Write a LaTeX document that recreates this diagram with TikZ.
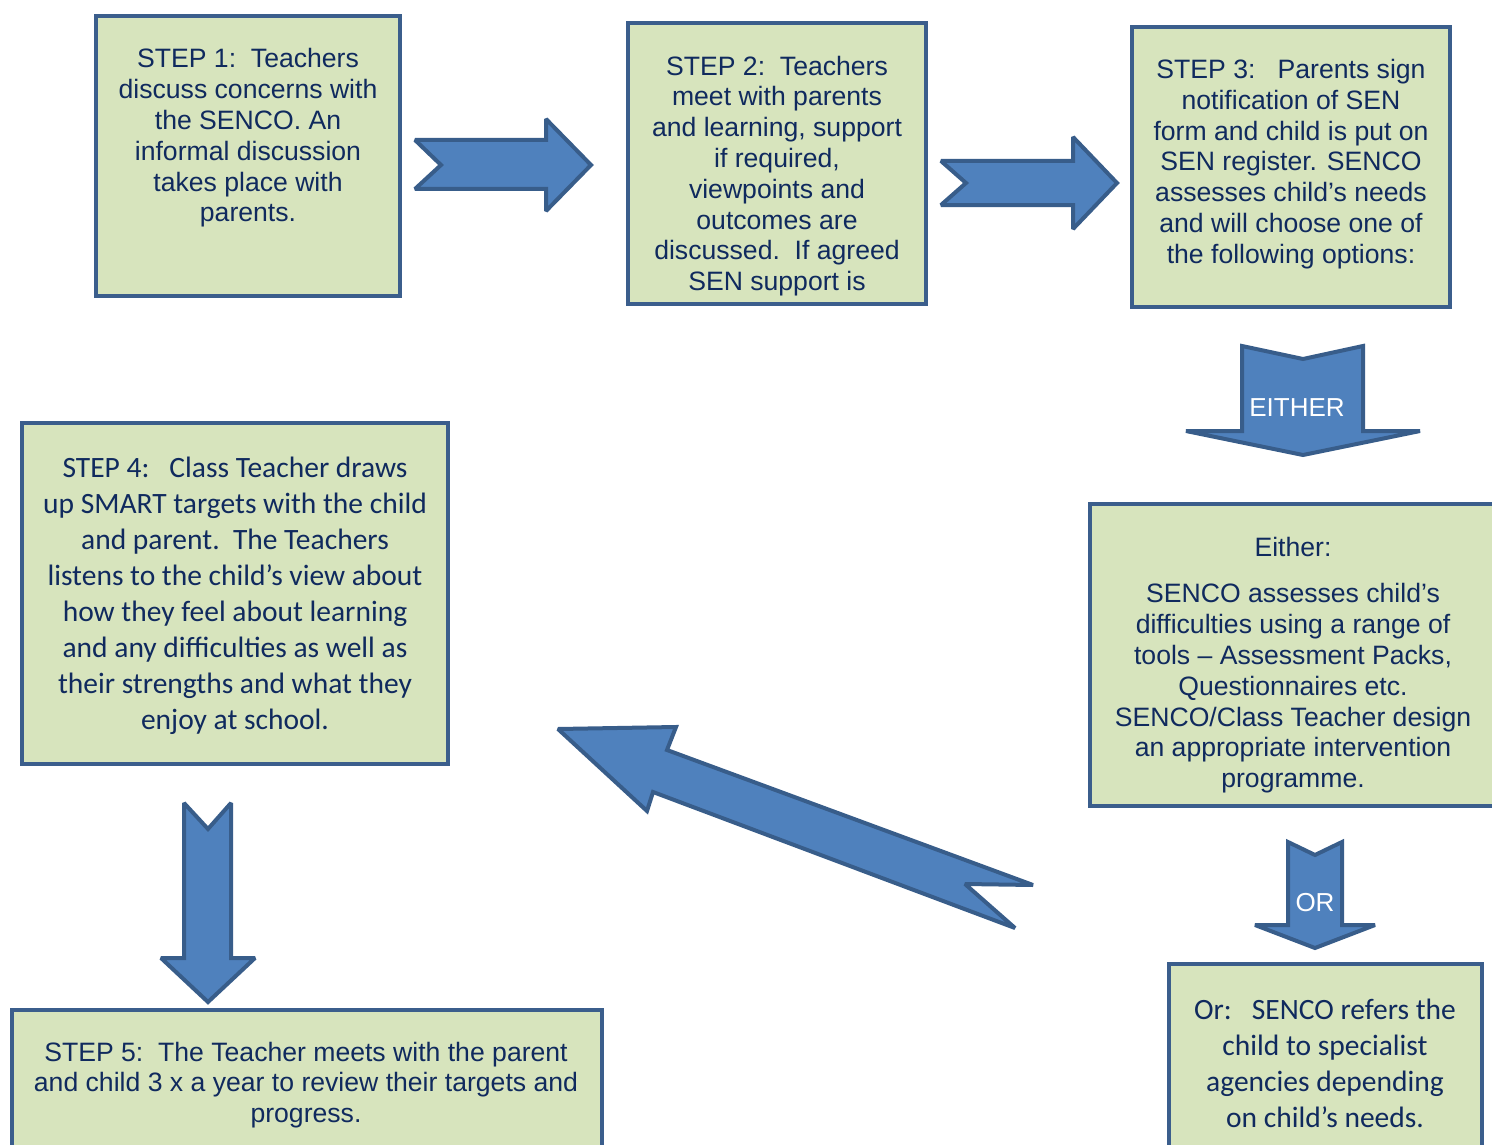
\documentclass[tikz,border=0pt]{standalone}
\usepackage{fontspec}
\setmainfont{Liberation Sans}
\newfontfamily\calib{Carlito}
\definecolor{boxfill}{HTML}{D7E4BD}
\definecolor{boxline}{HTML}{3B5E8C}
\definecolor{arrfill}{HTML}{4F81BD}
\definecolor{arrline}{HTML}{385D8A}
\definecolor{txt}{HTML}{102A5E}
\tikzset{
  stepbox/.style={draw=boxline, fill=boxfill, line width=4pt, inner sep=0pt},
  ariat/.style={text=txt, align=center, inner sep=0pt, font={\fontsize{26.6}{30.8}\selectfont}},
  calibt/.style={text=txt, align=center, inner sep=0pt, font={\calib\fontsize{29.5}{36}\selectfont}},
  blockarrow/.style={draw=arrline, fill=arrfill, line width=4pt, line join=miter, miter limit=2},
  arrlabel/.style={text=white, inner sep=0pt, font={\fontsize{26}{30}\selectfont}}
}
\begin{document}
\begin{tikzpicture}[x=1pt,y=-1pt]
\clip (0,0) rectangle (1492,1145);
\fill[white] (0,0) rectangle (1492,1145);

% boxes
\node[stepbox, minimum width=304, minimum height=280] (b1) at (248,156) {};
\node[stepbox, minimum width=298, minimum height=281] (b2) at (777,163.5) {};
\node[stepbox, minimum width=318, minimum height=280] (b3) at (1291,167) {};
\node[stepbox, minimum width=426, minimum height=341] (b4) at (235,593.5) {};
\node[stepbox, minimum width=412, minimum height=302] (be) at (1296,655) {};
\node[stepbox, minimum width=590, minimum height=150] (b5) at (307,1085) {};
\node[stepbox, minimum width=313, minimum height=196] (bo) at (1325.5,1062) {};

% texts
\node[ariat] (t1) at (248,138) {STEP 1:\ \ Teachers\\discuss concerns with\\the SENCO. An\\informal discussion\\takes place with\\parents.};
\node[ariat] (t2) at (777,176) {STEP 2:\ \ Teachers\\meet with parents\\and learning, support\\if required,\\viewpoints and\\outcomes are\\discussed.\ \ If agreed\\SEN support is};
\node[ariat] (t3) at (1291,164) {STEP 3:\ \ \ Parents sign\\notification of SEN\\form and child is put on\\SEN register. SENCO\\assesses child’s needs\\and will choose one of\\the following options:};
\node[calibt] (t4) at (235,596) {STEP 4:\ \ \ Class Teacher draws\\up SMART targets with the child\\and parent.\ \ The Teachers\\listens to the child’s view about\\how they feel about learning\\and any difficulties as well as\\their strengths and what they\\enjoy at school.};
\node[ariat] (te) at (1293,665) {Either:\\[16pt]SENCO assesses child’s\\difficulties using a range of\\tools – Assessment Packs,\\Questionnaires etc.\\SENCO/Class Teacher design\\an appropriate intervention\\programme.};
\node[ariat] (t5) at (306,1085) {STEP 5:\ \ The Teacher meets with the parent\\and child 3 x a year to review their targets and\\progress.};
\node[calibt] (to) at (1325,1063) {Or:\ \ \ SENCO refers the\\child to specialist\\agencies depending\\on child’s needs.};

% block arrows
\draw[blockarrow] (415,140) -- (546,140) -- (546,119) -- (591,165) -- (546,211) -- (546,189) -- (415,189) -- (441,165) -- cycle;
\draw[blockarrow] (941,161) -- (1073,161) -- (1073,137) -- (1117,183) -- (1073,229) -- (1073,205) -- (941,205) -- (966,183) -- cycle;
\draw[blockarrow] (1242,346) -- (1303,359) -- (1363,346) -- (1363,431) -- (1420,431) -- (1303,455) -- (1186,431) -- (1242,431) -- cycle;
\draw[blockarrow] (1288,842) -- (1315,855) -- (1342,842) -- (1342,925) -- (1375,925) -- (1315,948) -- (1255,925) -- (1288,925) -- cycle;
\draw[blockarrow] (184,803) -- (208,829) -- (231,803) -- (231,958) -- (255,958) -- (208,1002) -- (161,958) -- (184,958) -- cycle;
\draw[blockarrow] (558,729) -- (676,727) -- (667,750) -- (1033,885) -- (965,884) -- (1015,928) -- (653,792) -- (647,811) -- cycle;

\node[arrlabel] (le) at (1297,408) {EITHER};
\node[arrlabel] (lo) at (1315,903) {OR};
\end{tikzpicture}
\end{document}
